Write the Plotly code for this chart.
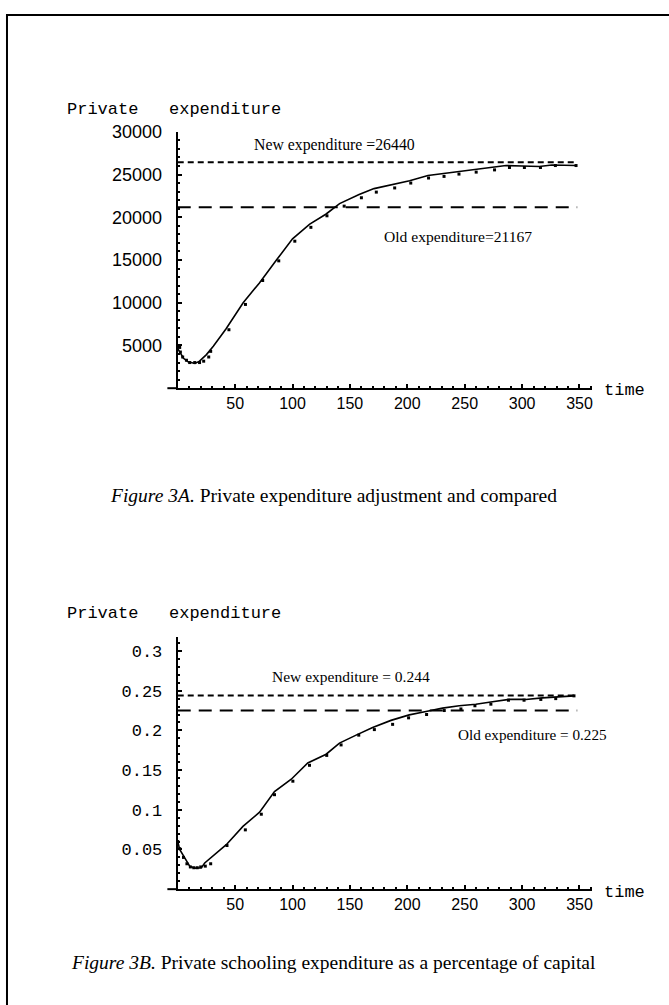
import plotly.graph_objects as go

# ---------------- data ----------------
# Figure 3A : private expenditure (level)
line_t_a = [0, 5, 9, 15, 19, 25, 31, 42, 57, 71, 86, 100, 115, 129, 141, 158, 171, 187,
            202, 218, 234, 248, 263, 277, 286, 300, 315, 326, 347]
line_y_a = [4620, 3500, 3080, 2890, 3160, 3930, 4900, 6920, 9990, 12290, 14990, 17480,
            19200, 20350, 21600, 22660, 23350, 23810, 24270, 24890, 25160, 25420, 25730,
            25930, 26050, 26000, 25930, 26120, 26050]
dot_t_a = [0, 1.7, 2.3, 4.3, 7.6, 10.4, 14.8, 19, 22.6, 27, 28.7, 44.6, 59, 74, 88, 102,
           116, 130, 145, 160, 173, 189, 203, 218.5, 232, 245, 260, 276, 289, 302, 316,
           329, 347]
dot_y_a = [4800, 4770, 4230, 3650, 3270, 3000, 3000, 3000, 3160, 3650, 4310, 6840, 9800,
           12600, 14900, 17200, 18820, 20170, 21300, 22280, 22940, 23430, 24000, 24590,
           24780, 25050, 25280, 25540, 25820, 25820, 25820, 26050, 26050]
new_level_a = 26440
old_level_a = 21167

# Figure 3B : private expenditure as a share of capital
line_t_b = [0, 1.7, 10.4, 14.8, 20.6, 23.5, 42.3, 56.8, 71.3, 84.3, 98.9, 113.3, 129.3,
            140.9, 155.4, 169.8, 185.8, 201.7, 216.3, 230.7, 245.2, 259.7, 274.2, 288.7,
            303.2, 317.7, 345.2]
line_y_b = [0.060, 0.050, 0.029, 0.0265, 0.027, 0.033, 0.056, 0.079, 0.097, 0.123, 0.1385,
            0.159, 0.170, 0.184, 0.194, 0.2035, 0.2126, 0.2195, 0.2237, 0.228, 0.231,
            0.233, 0.236, 0.239, 0.239, 0.241, 0.2435]
dot_t_b = [0, 1.7, 5, 8, 11, 14, 17, 20, 24, 28.7, 42.9, 58.9, 72.8, 84.3, 100.3, 114.8,
           129.8, 142.3, 157.7, 171.3, 187.2, 201.1, 216.8, 232.2, 246.7, 258.9, 272.8,
           288.1, 301.7, 316.3, 329.3, 345.2]
dot_y_b = [0.060, 0.051, 0.040, 0.032, 0.028, 0.027, 0.027, 0.028, 0.029, 0.032, 0.055,
           0.0747, 0.0944, 0.119, 0.136, 0.156, 0.1685, 0.1817, 0.194, 0.201, 0.2076,
           0.2158, 0.220, 0.225, 0.227, 0.231, 0.233, 0.238, 0.238, 0.239, 0.240, 0.2435]
new_level_b = 0.244
old_level_b = 0.225

hline_t = [0, 348]
x_ticks = [50, 100, 150, 200, 250, 300, 350]
y_ticks_a = [5000, 10000, 15000, 20000, 25000, 30000]
y_ticks_b = [0.05, 0.1, 0.15, 0.2, 0.25, 0.3]
y_ticktext_b = ["0.05", "0.1", "0.15", "0.2", "0.25", "0.3"]

# ---------------- layout helpers ----------------
W, H = 669, 1005
def px_x(p):
    return p / W
def px_y(p):
    return 1 - p / H

SANS = "Liberation Sans, Arial, sans-serif"
MONO = "Liberation Mono, Courier New, monospace"
SERIF = "Liberation Serif, Times New Roman, serif"

fig = go.Figure()

def add_panel(xa, ya, lt, ly, dt, dy, new, old):
    fig.add_trace(go.Scatter(x=hline_t, y=[new, new], mode="lines", xaxis=xa, yaxis=ya,
                             line=dict(color="black", width=2, dash="6px,4px"),
                             showlegend=False, hoverinfo="skip"))
    fig.add_trace(go.Scatter(x=hline_t, y=[old, old], mode="lines", xaxis=xa, yaxis=ya,
                             line=dict(color="black", width=2, dash="13px,8px"),
                             showlegend=False, hoverinfo="skip"))
    fig.add_trace(go.Scatter(x=lt, y=ly, mode="lines", xaxis=xa, yaxis=ya,
                             line=dict(color="black", width=1.6),
                             showlegend=False, cliponaxis=False))
    fig.add_trace(go.Scatter(x=dt, y=dy, mode="markers", xaxis=xa, yaxis=ya,
                             marker=dict(symbol="square", size=3, color="black"),
                             showlegend=False, cliponaxis=False))

add_panel("x", "y", line_t_a, line_y_a, dot_t_a, dot_y_a, new_level_a, old_level_a)
add_panel("x2", "y2", line_t_b, line_y_b, dot_t_b, dot_y_b, new_level_b, old_level_b)

xdom = [px_x(178), px_x(593)]
common_x = dict(range=[0, 361], domain=xdom, showline=True, linecolor="black", linewidth=2,
                ticks="inside", ticklen=4, tickwidth=2, tickcolor="black",
                tickvals=x_ticks, showgrid=False, zeroline=False,
                tickfont=dict(family=SANS, size=16, color="black"),
                minor=dict(dtick=10, ticks="inside", ticklen=2, tickwidth=2,
                           tickcolor="black", showgrid=False))
fig.update_layout(
    width=W, height=H, margin=dict(l=0, r=0, t=0, b=0),
    paper_bgcolor="white", plot_bgcolor="white",
    xaxis=dict(common_x, anchor="y"),
    xaxis2=dict(common_x, anchor="y2"),
    yaxis=dict(range=[0, 30000], domain=[px_y(382), px_y(123)], anchor="x",
               showline=True, linecolor="black", linewidth=2, ticks="inside", ticklen=4,
               tickwidth=2, tickcolor="black", tickvals=y_ticks_a, tickformat="d",
               showgrid=False, zeroline=False, ticklabelstandoff=10,
               tickfont=dict(family=SANS, size=18, color="black"),
               minor=dict(dtick=1000, ticks="inside", ticklen=2, tickwidth=2,
                          tickcolor="black", showgrid=False)),
    yaxis2=dict(range=[0, 0.318], domain=[px_y(888), px_y(633)], anchor="x2",
                showline=True, linecolor="black", linewidth=2, ticks="inside", ticklen=4,
                tickwidth=2, tickcolor="black", tickvals=y_ticks_b, ticktext=y_ticktext_b,
                showgrid=False, zeroline=False, ticklabelstandoff=10,
                tickfont=dict(family=MONO, size=17, color="black"),
                minor=dict(dtick=0.01, ticks="inside", ticklen=2, tickwidth=2,
                           tickcolor="black", showgrid=False)),
)

# small extension of the horizontal axes to the left of the origin
for xr, yr in [("x domain", "y domain"), ("x2 domain", "y2 domain")]:
    fig.add_shape(type="line", xref=xr, yref=yr, x0=-0.025, x1=0, y0=0, y1=0,
                  line=dict(color="black", width=2))

# page frame
fig.add_shape(type="line", xref="paper", yref="paper", x0=px_x(6), x1=1.01,
              y0=px_y(5), y1=px_y(5), line=dict(color="black", width=2))
fig.add_shape(type="line", xref="paper", yref="paper", x0=px_x(7), x1=px_x(7),
              y0=px_y(5), y1=-0.01, line=dict(color="black", width=2))

def label(text, x, y, font, size, xanchor="left"):
    fig.add_annotation(text=text, xref="paper", yref="paper", x=px_x(x), y=px_y(y),
                       xanchor=xanchor, yanchor="middle", showarrow=False,
                       font=dict(family=font, size=size, color="black"))

sp = "\u00a0" * 3
label("Private" + sp + "expenditure", 65, 100, MONO, 17)
label("Private" + sp + "expenditure", 65, 610, MONO, 17)
label("time", 603, 384, MONO, 17)
label("time", 603, 891, MONO, 17)

label("New expenditure =26440", 252, 136, SERIF, 15.8)
label("Old expenditure=21167", 383, 229, SERIF, 15.6)
label("New expenditure = 0.244", 270, 673, SERIF, 15.5)
label("Old expenditure = 0.225", 457, 732, SERIF, 15.2)

label("<i>Figure 3A.</i> Private expenditure adjustment and compared", 334, 490, SERIF, 19.5,
      xanchor="center")
label("<i>Figure 3B.</i> Private schooling expenditure as a percentage of capital", 334, 962,
      SERIF, 19.5, xanchor="center")

fig.write_html("out.html")
